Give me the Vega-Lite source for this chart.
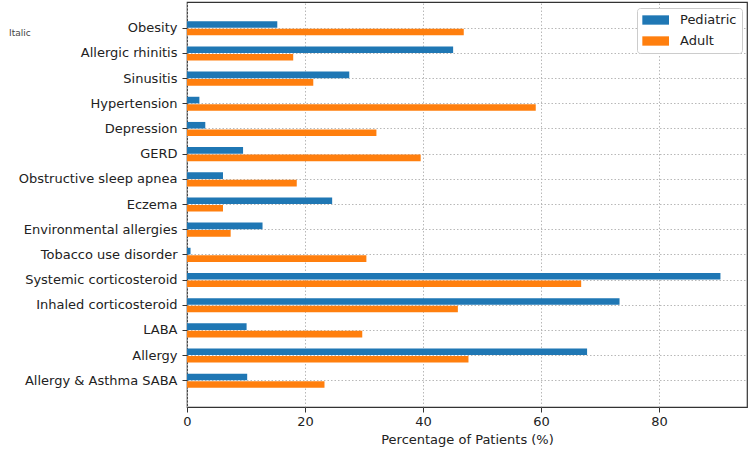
{
  "$schema": "https://vega.github.io/schema/vega-lite/v6.json",
  "width": 560,
  "height": 405,
  "autosize": {"type": "none"},
  "padding": {"left": 187, "top": 2, "right": 3, "bottom": 43},
  "background": "white",
  "title": {"text": "Italic", "anchor": "start", "frame": "group", "fontSize": 9, "font": "DejaVu Sans", "fontWeight": "normal", "color": "#444444", "dx": -178, "dy": 40},
  "data": {
    "values": [
      {"condition": "Obesity", "group": "Pediatric", "pct": 15.3},
      {"condition": "Obesity", "group": "Adult", "pct": 46.9},
      {"condition": "Allergic rhinitis", "group": "Pediatric", "pct": 45.1},
      {"condition": "Allergic rhinitis", "group": "Adult", "pct": 18.0},
      {"condition": "Sinusitis", "group": "Pediatric", "pct": 27.5},
      {"condition": "Sinusitis", "group": "Adult", "pct": 21.4},
      {"condition": "Hypertension", "group": "Pediatric", "pct": 2.1},
      {"condition": "Hypertension", "group": "Adult", "pct": 59.1},
      {"condition": "Depression", "group": "Pediatric", "pct": 3.1},
      {"condition": "Depression", "group": "Adult", "pct": 32.1},
      {"condition": "GERD", "group": "Pediatric", "pct": 9.5},
      {"condition": "GERD", "group": "Adult", "pct": 39.6},
      {"condition": "Obstructive sleep apnea", "group": "Pediatric", "pct": 6.1},
      {"condition": "Obstructive sleep apnea", "group": "Adult", "pct": 18.6},
      {"condition": "Eczema", "group": "Pediatric", "pct": 24.6},
      {"condition": "Eczema", "group": "Adult", "pct": 6.1},
      {"condition": "Environmental allergies", "group": "Pediatric", "pct": 12.8},
      {"condition": "Environmental allergies", "group": "Adult", "pct": 7.4},
      {"condition": "Tobacco use disorder", "group": "Pediatric", "pct": 0.6},
      {"condition": "Tobacco use disorder", "group": "Adult", "pct": 30.4},
      {"condition": "Systemic corticosteroid", "group": "Pediatric", "pct": 90.4},
      {"condition": "Systemic corticosteroid", "group": "Adult", "pct": 66.8},
      {"condition": "Inhaled corticosteroid", "group": "Pediatric", "pct": 73.3},
      {"condition": "Inhaled corticosteroid", "group": "Adult", "pct": 45.9},
      {"condition": "LABA", "group": "Pediatric", "pct": 10.1},
      {"condition": "LABA", "group": "Adult", "pct": 29.7},
      {"condition": "Allergy", "group": "Pediatric", "pct": 67.8},
      {"condition": "Allergy", "group": "Adult", "pct": 47.7},
      {"condition": "Allergy & Asthma SABA", "group": "Pediatric", "pct": 10.2},
      {"condition": "Allergy & Asthma SABA", "group": "Adult", "pct": 23.3}
    ]
  },
  "mark": {"type": "bar"},
  "encoding": {
    "y": {
      "field": "condition",
      "type": "nominal",
      "sort": ["Obesity", "Allergic rhinitis", "Sinusitis", "Hypertension", "Depression", "GERD", "Obstructive sleep apnea", "Eczema", "Environmental allergies", "Tobacco use disorder", "Systemic corticosteroid", "Inhaled corticosteroid", "LABA", "Allergy", "Allergy & Asthma SABA"],
      "scale": {"paddingInner": 0.44, "paddingOuter": 0.765},
      "axis": {"title": null, "bandPosition": 0.5, "tickBand": "center", "labelFontSize": 13, "labelFont": "DejaVu Sans", "labelColor": "#222222", "tickSize": 5, "labelPadding": 5, "labelLimit": 300}
    },
    "yOffset": {
      "field": "group",
      "type": "nominal",
      "sort": ["Pediatric", "Adult"],
      "scale": {"domain": ["Pediatric", "Adult"], "paddingInner": 0.12}
    },
    "x": {
      "field": "pct",
      "type": "quantitative",
      "scale": {"domain": [0, 94.9], "nice": false, "zero": true},
      "axis": {"values": [0, 20, 40, 60, 80], "labelFlush": false, "title": "Percentage of Patients (%)", "titleFontSize": 13, "titleFont": "DejaVu Sans", "titleFontWeight": "normal", "titleColor": "#222222", "titlePadding": 5, "labelFontSize": 13, "labelFont": "DejaVu Sans", "labelColor": "#222222", "tickSize": 5, "labelPadding": 3}
    },
    "color": {
      "field": "group",
      "type": "nominal",
      "sort": ["Pediatric", "Adult"],
      "scale": {"domain": ["Pediatric", "Adult"], "range": ["#1f77b4", "#ff7f0e"]},
      "legend": {
        "title": null,
        "orient": "none",
        "legendX": 450,
        "legendY": 6,
        "symbolType": "M-1,-0.7H3V0.7H-1Z",
        "symbolSize": 178,
        "symbolStrokeWidth": 0,
        "symbolOpacity": 1,
        "labelOffset": 24,
        "labelFontSize": 13,
        "labelFont": "DejaVu Sans",
        "labelColor": "#222222",
        "padding": 5,
        "rowPadding": 7,
        "strokeColor": "#cccccc",
        "fillColor": "white",
        "cornerRadius": 3
      }
    }
  },
  "config": {
    "view": {"stroke": "#333333", "strokeWidth": 1.2},
    "axis": {"domain": false, "grid": true, "gridColor": "#b0b0b0", "gridDash": [1.5, 2], "gridWidth": 0.9, "tickColor": "#333333", "tickWidth": 1}
  }
}
